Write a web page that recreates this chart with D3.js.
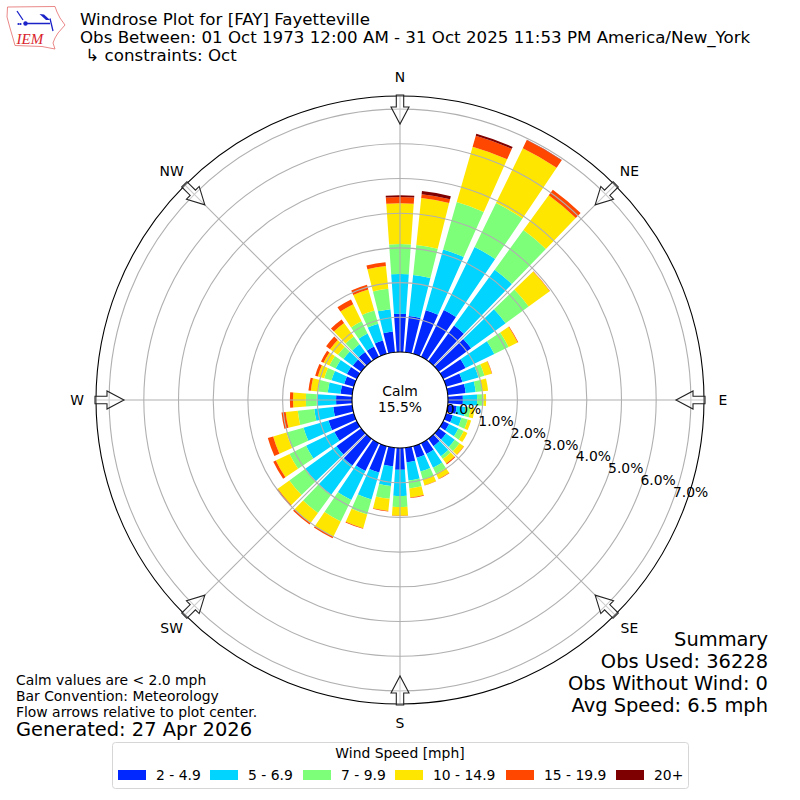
<!DOCTYPE html>
<html>
<head>
<meta charset="utf-8">
<script src="https://cdn.jsdelivr.net/npm/d3@7"></script>
<style>
  html, body { margin: 0; padding: 0; background: #fff; }
  svg { display: block; }
  text { font-family: "DejaVu Sans", sans-serif; fill: #000; }
</style>
</head>
<body>
<div id="plot"></div>
<script>
// direction of each bar, degrees from north
const directions = d3.range(0, 360, 10);

// percent of obs per direction, one array per speed bin
const speed2 = [1.10,1.05,1.31,1.50,1.27,1.15,.72,.49,.52,.43,.26,.20,.19,.26,.26,.35,.35,.42,.63,.54,.79,.89,.95,.88,.72,.76,.55,.46,.34,.29,.32,.30,.33,.33,.40,.60];
const speed5 = [1.15,1.19,1.82,2.02,1.99,1.23,.92,.48,.29,.41,.26,.26,.30,.31,.36,.44,.41,.53,.75,.57,.81,.93,1.04,1.11,.91,.75,.55,.56,.37,.38,.36,.33,.27,.42,.50,.65];
const speed7 = [.86,.87,1.42,1.41,1.41,.82,.46,.18,.19,.19,.14,.19,.17,.17,.10,.19,.24,.23,.32,.37,.45,.69,.65,.57,.53,.51,.48,.31,.28,.22,.20,.20,.28,.39,.40,.59];
const speed10 = [1.18,1.36,1.66,1.76,1.24,.75,.29,.22,.17,.07,.12,.10,.12,.15,.16,.17,.17,.26,.25,.35,.41,.49,.36,.41,.44,.40,.35,.37,.21,.19,.19,.28,.48,.55,.63,.66];
const speed15 = [.18,.11,.33,.26,.20,.01,.02,.01,0,0,0,0,0,.01,.03,.01,.01,.02,.01,.02,.02,.05,.05,.04,.08,.16,.12,.09,.07,.08,.08,.14,.12,.15,.14,.11];
const speed20 = [.05,.09,.06,.01,0,0,0,0,0,0,0,0,0,0,0,0,0,0,0,0,0,0,0,0,0,0,0,0,0,0,0,0,0,0,0,0];

const speedLabels = ["2 - 4.9", "5 - 6.9", "7 - 9.9", "10 - 14.9", "15 - 19.9", "20+"];
const speedColors = ["#0028ff", "#00d4ff", "#7dff7a", "#ffe600", "#ff4700", "#7f0000"];
const rTicks = [0, 1, 2, 3, 4, 5, 6, 7];
const compass = ["N", "NE", "E", "SE", "S", "SW", "W", "NW"];

const titleLines = ["Windrose Plot for [FAY] Fayetteville",
  "Obs Between: 01 Oct 1973 12:00 AM - 31 Oct 2025 11:53 PM America/New_York",
  " \u21b3 constraints: Oct"];
const summaryLines = ["Summary", "Obs Used: 36228", "Obs Without Wind: 0", "Avg Speed: 6.5 mph"];
const noteLines = ["Calm values are < 2.0 mph", "Bar Convention: Meteorology", "Flow arrows relative to plot center."];

const width = 800, height = 800;
const cx = 400, cy = 400;

const svg = d3.select("#plot").append("svg")
  .attr("width", width)
  .attr("height", height);

const r = d3.scaleLinear().domain([0, 7.378]).range([48, 304]);

const rows = directions.map((d, i) => ({
  dir: d, s0: speed2[i], s1: speed5[i], s2: speed7[i], s3: speed10[i], s4: speed15[i], s5: speed20[i]
}));
const stacked = d3.stack().keys(["s0", "s1", "s2", "s3", "s4", "s5"])(rows);

const polar = svg.append("g").attr("transform", `translate(${cx},${cy})`);

// bars
const barArc = d3.arc()
  .innerRadius(d => r(d[0]))
  .outerRadius(d => r(d[1]))
  .startAngle(d => (d.data.dir - 4) * Math.PI / 180)
  .endAngle(d => (d.data.dir + 4) * Math.PI / 180);

polar.selectAll("g.bin")
  .data(stacked)
  .join("g")
  .attr("class", "bin")
  .attr("fill", (d, i) => speedColors[i])
  .selectAll("path")
  .data(d => d.filter(v => v[1] > v[0]))
  .join("path")
  .attr("d", barArc);

// grid
polar.selectAll("circle.ring")
  .data(rTicks.slice(1))
  .join("circle")
  .attr("class", "ring")
  .attr("r", d => r(d))
  .attr("fill", "none")
  .attr("stroke", "#b0b0b0")
  .attr("stroke-width", 1.1);

polar.selectAll("line.spoke")
  .data(compass)
  .join("line")
  .attr("class", "spoke")
  .attr("x1", (d, i) => r(0) * Math.sin(i * Math.PI / 4))
  .attr("y1", (d, i) => -r(0) * Math.cos(i * Math.PI / 4))
  .attr("x2", (d, i) => 304 * Math.sin(i * Math.PI / 4))
  .attr("y2", (d, i) => -304 * Math.cos(i * Math.PI / 4))
  .attr("stroke", "#b0b0b0")
  .attr("stroke-width", 1.1);

// hub and outer spine
polar.append("circle").attr("r", r(0))
  .attr("fill", "#fff").attr("stroke", "#000").attr("stroke-width", 1.1);
polar.append("circle").attr("r", 304)
  .attr("fill", "none").attr("stroke", "#000").attr("stroke-width", 1.1);

// flow arrows, drawn pointing inward from the top
const arrowPath = "M-3.7,-305 L3.7,-305 L3.7,-293 L9,-293 L0,-276 L-9,-293 L-3.7,-293 Z";
polar.selectAll("path.arrow")
  .data(compass)
  .join("path")
  .attr("class", "arrow")
  .attr("d", arrowPath)
  .attr("transform", (d, i) => `rotate(${i * 45})`)
  .attr("fill", "rgba(255,255,255,0.35)")
  .attr("stroke", "#222")
  .attr("stroke-width", 1.1);

// compass labels
polar.selectAll("text.compass")
  .data(compass)
  .join("text")
  .attr("class", "compass")
  .attr("x", (d, i) => 323 * Math.sin(i * Math.PI / 4) + (i === 1 || i === 3 ? 1 : 0))
  .attr("y", (d, i) => -323 * Math.cos(i * Math.PI / 4) + 4.5)
  .attr("text-anchor", "middle")
  .attr("font-size", 13.9)
  .text(d => d);

// radial labels
const labelAngle = 20 * Math.PI / 180;
polar.selectAll("text.rlabel")
  .data(rTicks)
  .join("text")
  .attr("class", "rlabel")
  .attr("x", d => r(d) * 0.935 + 1)
  .attr("y", d => r(d) * Math.sin(labelAngle) - 2.5)
  .attr("font-size", 13.9)
  .text(d => d.toFixed(1) + "%");

// calm label
polar.selectAll("text.calm")
  .data(["Calm", "15.5%"])
  .join("text")
  .attr("class", "calm")
  .attr("x", 0)
  .attr("y", (d, i) => i * 16 - 4)
  .attr("text-anchor", "middle")
  .attr("font-size", 13.9)
  .text(d => d);

// title block
svg.selectAll("text.title")
  .data(titleLines)
  .join("text")
  .attr("class", "title")
  .attr("x", 80)
  .attr("y", (d, i) => 25 + i * 18)
  .attr("font-size", 15.28 * 1.091)
  .style("white-space", "pre")
  .text(d => d);

// summary block
svg.selectAll("text.summary")
  .data(summaryLines)
  .join("text")
  .attr("class", "summary")
  .attr("x", 768)
  .attr("y", (d, i) => 646 + i * 22)
  .attr("text-anchor", "end")
  .attr("font-size", 19.44)
  .text(d => d);

// notes, lower left
svg.selectAll("text.note")
  .data(noteLines)
  .join("text")
  .attr("class", "note")
  .attr("x", 16)
  .attr("y", (d, i) => 685 + i * 16)
  .attr("font-size", 13.9)
  .text(d => d);

svg.append("text")
  .attr("x", 16)
  .attr("y", 736)
  .attr("font-size", 19.44)
  .text("Generated: 27 Apr 2026");

// legend
const legend = svg.append("g");
legend.append("rect")
  .attr("x", 112.5).attr("y", 742.5)
  .attr("width", 576).attr("height", 46)
  .attr("rx", 3)
  .attr("fill", "#fff")
  .attr("stroke", "#d6d6d6");
legend.append("text")
  .attr("x", 400).attr("y", 758)
  .attr("text-anchor", "middle")
  .attr("font-size", 13.9)
  .text("Wind Speed [mph]");

const legendX = [118, 210, 303, 395, 506, 616];
const legendItem = legend.selectAll("g.item")
  .data(speedLabels)
  .join("g")
  .attr("class", "item")
  .attr("transform", (d, i) => `translate(${legendX[i]},770)`);
legendItem.append("rect")
  .attr("width", 28).attr("height", 10)
  .attr("fill", (d, i) => speedColors[i]);
legendItem.append("text")
  .attr("x", 38).attr("y", 10)
  .attr("font-size", 13.9)
  .text(d => d);

// IEM logo
const logo = svg.append("g");
logo.append("path")
  .attr("d", "M7.5,7 L55,6.5 L57,12 L60,18 L65,25 L58,33 L55,38 L53,43 L55,49 L42,46.5 L15,45.5 L13.5,40 L10,28 L7,17 Z")
  .attr("fill", "none")
  .attr("stroke", "#e46a6a")
  .attr("stroke-width", 0.8);
logo.append("path")
  .attr("d", "M25,23.5 L50,23.5 M23,20 L17,11 M50,18.5 L53,31")
  .attr("fill", "none")
  .attr("stroke", "#1b22c8")
  .attr("stroke-width", 1.3);
logo.append("path")
  .attr("d", "M39.5,14 L44,14.5 L50,20 L46,20 Z")
  .attr("fill", "#1b22c8");
logo.append("circle").attr("cx", 25.5).attr("cy", 23.5).attr("r", 2.2).attr("fill", "#1b22c8");
logo.append("circle").attr("cx", 20.5).attr("cy", 24).attr("r", 1.1).attr("fill", "#1b22c8");
logo.append("circle").attr("cx", 18.5).attr("cy", 24).attr("r", 1.1).attr("fill", "#1b22c8");
logo.append("text")
  .attr("x", 16.5).attr("y", 44)
  .attr("font-size", 15)
  .attr("font-style", "italic")
  .style("font-family", "'Liberation Serif', serif")
  .style("fill", "#d9232b")
  .text("IEM");
</script>
</body>
</html>
